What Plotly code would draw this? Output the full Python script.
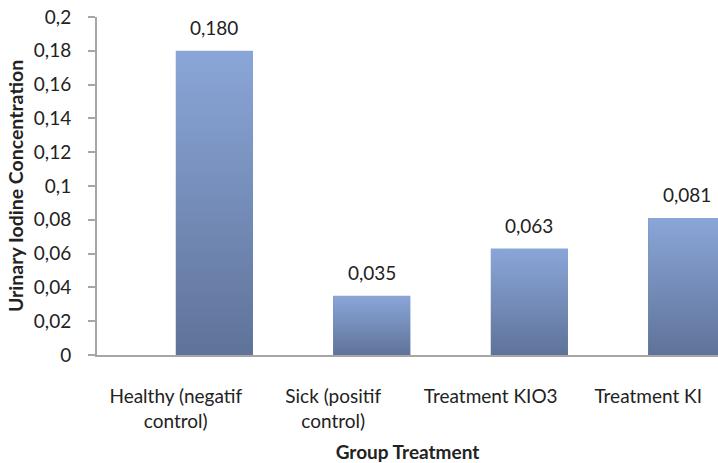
import plotly.graph_objects as go

# Urinary iodine concentration by treatment group
categories = ["Healthy (negatif<br>control)", "Sick (positif<br>control)",
              "Treatment KIO3", "Treatment KI"]
values = [0.180, 0.035, 0.063, 0.081]
value_labels = ["0,180", "0,035", "0,063", "0,081"]
y_tickvals = [0, 0.02, 0.04, 0.06, 0.08, 0.1, 0.12, 0.14, 0.16, 0.18, 0.2]
y_ticktext = ["0", "0,02", "0,04", "0,06", "0,08", "0,1", "0,12", "0,14",
              "0,16", "0,18", "0,2"]

FONT = "Lato"
TEXT_COLOR = "#222222"
AXIS_COLOR = "#a6a6a6"
BAR_TOP = "#8aa6d8"
BAR_BOTTOM = "#5f7399"
BAR_MID = "#7590c0"
BAR_WIDTH = 0.49

positions = list(range(len(categories)))

fig = go.Figure()

# Bars sit in the right half of each category slot
fig.add_trace(go.Bar(
    x=positions, y=values, width=BAR_WIDTH, offset=0,
    marker=dict(color=BAR_MID, line=dict(width=0)),
    hoverinfo="skip", showlegend=False,
))

# Vertical gradient shading for each bar, built from the same values
for pos, val in zip(positions, values):
    x0, x1 = pos, pos + BAR_WIDTH
    fig.add_trace(go.Scatter(
        x=[x0, x1, x1, x0, x0], y=[0, 0, val, val, 0],
        mode="lines", line=dict(width=0), fill="toself",
        fillgradient=dict(type="vertical", start=0, stop=val,
                          colorscale=[[0, BAR_BOTTOM], [1, BAR_TOP]]),
        hoverinfo="skip", showlegend=False,
    ))

# Value labels above the bars
for pos, val, lab in zip(positions, values, value_labels):
    fig.add_annotation(
        x=pos + BAR_WIDTH / 2, y=val, text=lab, showarrow=False,
        xref="x", yref="y", yanchor="bottom", yshift=10,
        font=dict(family=FONT, size=19, color=TEXT_COLOR),
    )

fig.update_layout(
    width=718, height=463,
    margin=dict(l=97, r=0, t=17, b=108, autoexpand=False),
    paper_bgcolor="white", plot_bgcolor="white",
    font=dict(family=FONT, size=19, color=TEXT_COLOR),
    bargap=0,
)

fig.update_xaxes(
    range=[-0.5, 3.443], tickvals=positions, ticktext=categories,
    showgrid=False, zeroline=False, showline=True, linecolor=AXIS_COLOR,
    linewidth=2, ticks="", ticklabelstandoff=23,
    tickfont=dict(family=FONT, size=19, color=TEXT_COLOR),
    title=dict(text="<b>Group Treatment</b>", standoff=27,
               font=dict(family=FONT, size=19, color=TEXT_COLOR)),
)

fig.update_yaxes(
    range=[0, 0.2], tickvals=y_tickvals, ticktext=y_ticktext,
    showgrid=False, zeroline=False, showline=True, linecolor=AXIS_COLOR,
    linewidth=2, ticks="outside", ticklen=7, tickcolor=AXIS_COLOR,
    tickwidth=2, ticklabelstandoff=13,
    tickfont=dict(family=FONT, size=19, color=TEXT_COLOR),
    title=dict(text="<b>Urinary Iodine Concentration</b>", standoff=5,
               font=dict(family=FONT, size=19.5, color=TEXT_COLOR)),
)

fig.write_html("out.html")
